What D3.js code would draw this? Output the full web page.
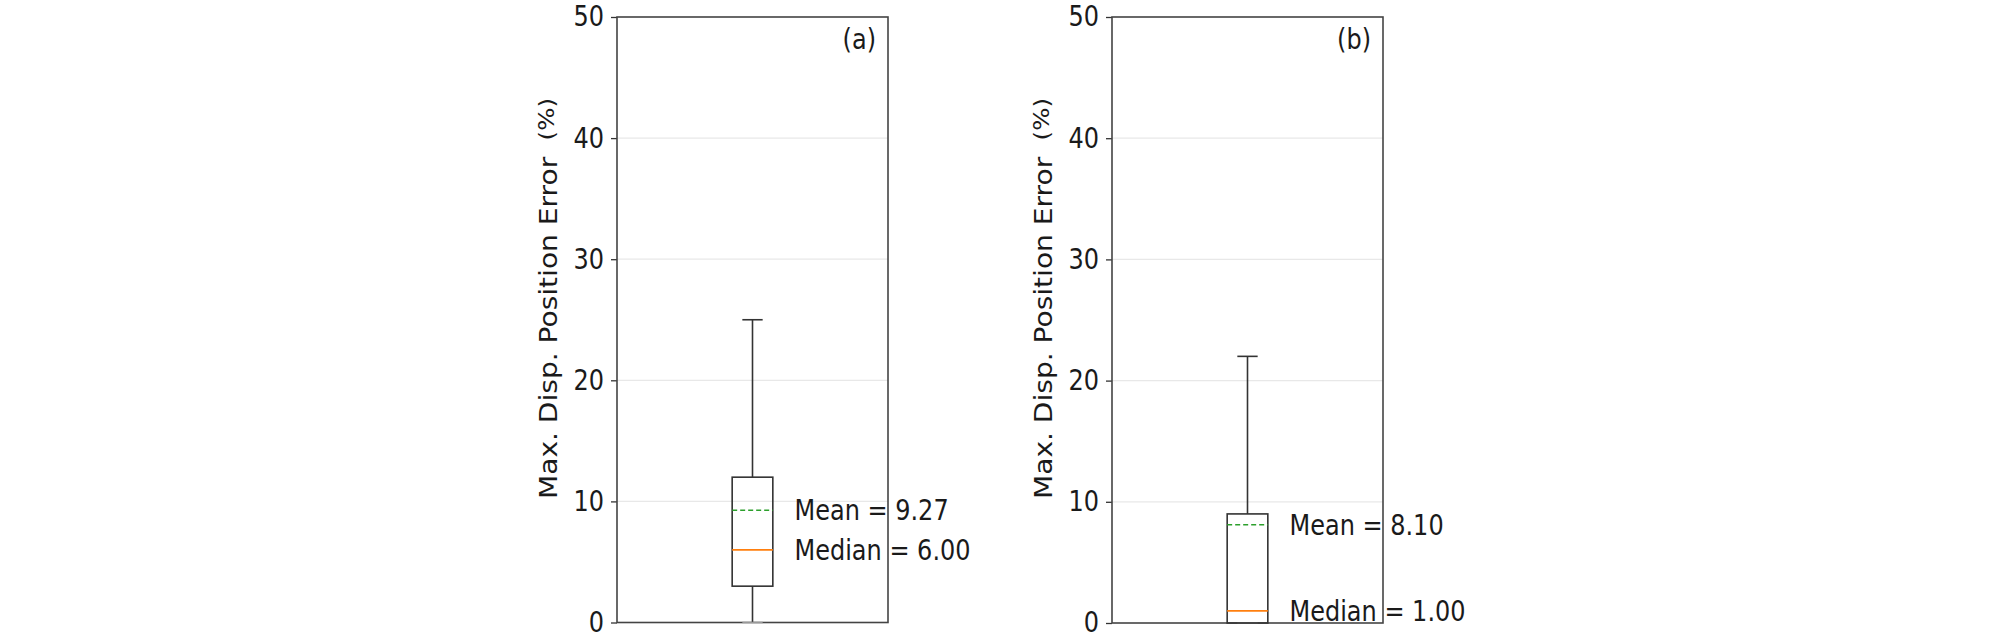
<!DOCTYPE html>
<html>
<head>
<meta charset="utf-8">
<script src="https://cdn.jsdelivr.net/npm/d3@7"></script>
<style>
  html, body { margin: 0; padding: 0; background: #fff; }
  svg { display: block; }
  text { font-family: "DejaVu Sans", sans-serif; fill: #1a1a1a; }
</style>
</head>
<body>
<svg id="chart" width="2008" height="639"></svg>
<script>
// ---- data ----
const panelLabels = ["(a)", "(b)"];
const whiskerLow  = [0, 0];
const q1          = [3, 0];
const medians     = [6, 1];
const q3          = [12, 9];
const whiskerHigh = [25, 22];
const means       = [9.27, 8.10];
const yTicks      = [0, 10, 20, 30, 40, 50];
const yLabelMain  = "Max. Disp. Position Error";
const yLabelUnit  = "(%)";

// ---- layout ----
const svg = d3.select("#chart");
const SY = 1.17; // vertical stretch of text in the reference
const panels = [
  { left: 617, right: 888, top: 17, bottom: 622.5 },
  { left: 1112, right: 1383, top: 17, bottom: 623 }
];

panels.forEach((p, i) => {
  const g = svg.append("g");
  const x = d3.scaleLinear().domain([0.5, 1.5]).range([p.left, p.right]);
  const y = d3.scaleLinear().domain([0, 50]).range([p.bottom, p.top]);

  // grid
  g.append("g").selectAll("line").data(yTicks.filter(t => t > 0 && t < 50)).join("line")
    .attr("x1", p.left).attr("x2", p.right)
    .attr("y1", d => y(d)).attr("y2", d => y(d))
    .attr("stroke", "#e8e8e8").attr("stroke-width", 1.3);

  // y axis
  const yAxis = d3.axisLeft(y).tickValues(yTicks).tickFormat(d3.format("d")).tickSize(6).tickPadding(7);
  const ag = g.append("g").attr("transform", `translate(${p.left},0)`).call(yAxis);
  ag.select(".domain").remove();
  ag.selectAll(".tick line").attr("stroke", "#333").attr("stroke-width", 1.3);
  ag.selectAll(".tick text").attr("font-size", 24).attr("font-family", "DejaVu Sans").attr("fill", "#1a1a1a")
    .attr("transform", `scale(1,${SY})`);

  // frame
  g.append("rect").attr("x", p.left).attr("y", p.top)
    .attr("width", p.right - p.left).attr("height", p.bottom - p.top)
    .attr("fill", "none").attr("stroke", "#444").attr("stroke-width", 1.6);

  // box
  const cx = x(1), hw = x(1.075) - x(1), cw = x(1.0375) - x(1);
  const bc = "#333";
  g.append("line").attr("x1", cx).attr("x2", cx).attr("y1", y(q3[i])).attr("y2", y(whiskerHigh[i]))
    .attr("stroke", bc).attr("stroke-width", 1.6);
  g.append("line").attr("x1", cx).attr("x2", cx).attr("y1", y(q1[i])).attr("y2", y(whiskerLow[i]))
    .attr("stroke", bc).attr("stroke-width", 1.6);
  g.append("line").attr("x1", cx - cw).attr("x2", cx + cw).attr("y1", y(whiskerHigh[i])).attr("y2", y(whiskerHigh[i]))
    .attr("stroke", bc).attr("stroke-width", 1.6);
  g.append("line").attr("x1", cx - cw).attr("x2", cx + cw).attr("y1", y(whiskerLow[i])).attr("y2", y(whiskerLow[i]))
    .attr("stroke", "#999").attr("stroke-width", 1.5);
  g.append("rect").attr("x", cx - hw).attr("y", y(q3[i]))
    .attr("width", 2 * hw).attr("height", y(q1[i]) - y(q3[i]))
    .attr("fill", "none").attr("stroke", bc).attr("stroke-width", 1.6);
  g.append("line").attr("x1", cx - hw).attr("x2", cx + hw).attr("y1", y(medians[i])).attr("y2", y(medians[i]))
    .attr("stroke", "#ff7f0e").attr("stroke-width", 1.6);
  g.append("line").attr("x1", cx - hw).attr("x2", cx + hw).attr("y1", y(means[i])).attr("y2", y(means[i]))
    .attr("stroke", "#2ca02c").attr("stroke-width", 1.5).attr("stroke-dasharray", "5,3");

  // annotations
  const tx = x(1.155);
  g.append("text").attr("transform", `translate(${tx},${y(means[i])}) scale(1,${SY})`).attr("dy", "0.35em")
    .attr("font-size", 24).text(`Mean = ${means[i].toFixed(2)}`);
  g.append("text").attr("transform", `translate(${tx},${y(medians[i])}) scale(1,${SY})`).attr("dy", "0.35em")
    .attr("font-size", 24).text(`Median = ${medians[i].toFixed(2)}`);

  // panel label
  g.append("text").attr("transform", `translate(${p.right - 12},${p.top + 32}) scale(1,${SY})`)
    .attr("text-anchor", "end").attr("font-size", 24).text(panelLabels[i]);

  // y label
  const lx = p.left - 60, ly = 499;
  const lt = g.append("text").attr("transform", `translate(${lx},${ly}) scale(1,${SY}) rotate(-90)`)
    .attr("font-size", 24);
  lt.append("tspan").text(yLabelMain);
  lt.append("tspan").attr("dx", 14).attr("font-size", 21).attr("dy", -3).text(yLabelUnit);
});
</script>
</body>
</html>
